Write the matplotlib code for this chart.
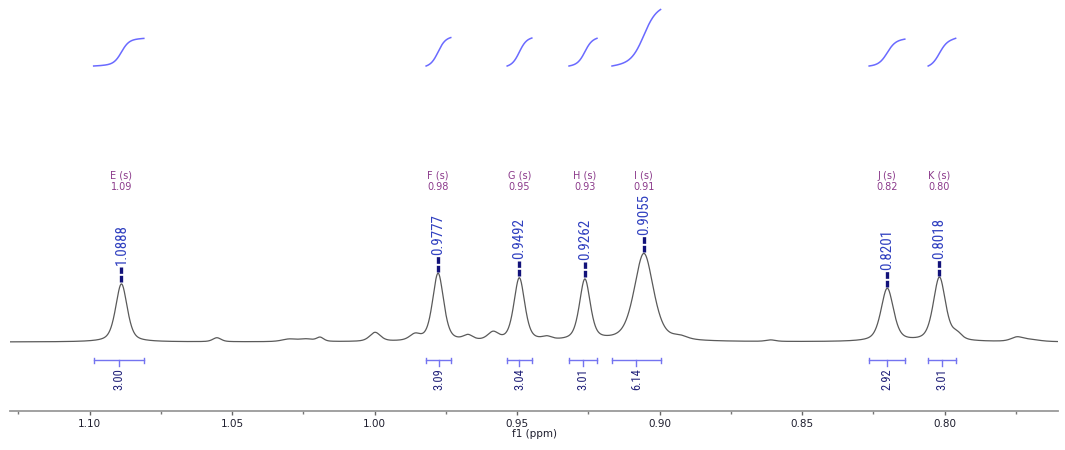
import numpy as np
import matplotlib
matplotlib.use('Agg')
import matplotlib.pyplot as plt
from matplotlib import font_manager
from matplotlib.ticker import MultipleLocator, FormatStrFormatter

# ---------------- data ----------------
# main peak list (chemical shift in ppm), intensity (arb. units), line width (ppm)
peak_labels = ['1.0888', '0.9777', '0.9492', '0.9262', '0.9055', '0.8201', '0.8018']
peak_shifts = [1.0888, 0.9777, 0.9492, 0.9262, 0.9055, 0.8201, 0.8018]
peak_heights = [58, 68, 63, 61, 88, 53, 64]
peak_widths = [0.0048, 0.0046, 0.0045, 0.0045, 0.0080, 0.0052, 0.0051]

# small lines / shoulders
minor_shifts = [1.0553, 1.0300, 1.0240, 1.0191, 0.9998, 0.9858, 0.9672, 0.9584, 0.9395, 0.8928, 0.8610, 0.7957, 0.7746, 0.7700]
minor_heights = [4, 2.5, 2.5, 4, 9, 6, 5, 8, 3, 3, 1.5, 6, 4, 2]
minor_widths = [0.0035, 0.0060, 0.0060, 0.0030, 0.0045, 0.0045, 0.0040, 0.0045, 0.0040, 0.0060, 0.0040, 0.0040, 0.0050, 0.0080]

# multiplet annotations
multiplet_names = ['E (s)', 'F (s)', 'G (s)', 'H (s)', 'I (s)', 'J (s)', 'K (s)']
multiplet_shifts = ['1.09', '0.98', '0.95', '0.93', '0.91', '0.82', '0.80']

# integrals
integral_values = [3.00, 3.09, 3.04, 3.01, 6.14, 2.92, 3.01]
integral_starts = [1.0986, 0.9819, 0.9535, 0.9318, 0.9167, 0.8265, 0.8058]
integral_ends = [1.0809, 0.9732, 0.9448, 0.9219, 0.8996, 0.8139, 0.7961]

baseline_level = 69.0
x_left, x_right = 1.1279, 0.7602

# ---------------- build spectrum from the peak list ----------------
ppm = np.linspace(x_left, x_right, 6000)


def line_shape(x, x0, h, w, eta=0.5):
    d = (x - x0) / (w / 2.0)
    return h * (eta / (1.0 + d ** 2) + (1 - eta) * np.exp(-np.log(2) * d ** 2))


spec = np.full_like(ppm, baseline_level)
for s, h, w in zip(peak_shifts, peak_heights, peak_widths):
    spec += line_shape(ppm, s, h, w)
for s, h, w in zip(minor_shifts, minor_heights, minor_widths):
    spec += line_shape(ppm, s, h, w)

# narrow font for the vertical labels, if one is installed
narrow_kw = None
candidates = [('Liberation Sans Narrow', 'normal'), ('Roboto Condensed', 'normal'),
              ('Open Sans Condensed', 'normal'), ('Noto Sans', 'condensed'),
              ('Open Sans', 'condensed'), ('Roboto', 'condensed'),
              ('DejaVu Sans', 'condensed')]
for fam, st in candidates:
    try:
        fp = font_manager.FontProperties(family=fam, stretch=st)
        path = font_manager.findfont(fp, fallback_to_default=False)
        if ('Narrow' in path) or ('Condensed' in path) or ('condensed' in path):
            narrow_kw = dict(family=fam, stretch=st)
            break
    except Exception:
        pass
if narrow_kw is not None:
    peak_fs, integ_fs = 10.8, 9.0
else:
    narrow_kw = dict(family='DejaVu Sans')
    peak_fs, integ_fs = 7.5, 6.8

# ---------------- figure ----------------
W, H = 1065, 450
fig = plt.figure(figsize=(W / 100, H / 100), dpi=100)
ax = fig.add_axes([10 / W, 39 / H, 1048 / W, 411 / H])
ax.set_xlim(x_left, x_right)
ax.set_ylim(0, 411)

ax.plot(ppm, spec, color='#5a5a5a', lw=0.9, zorder=3)

# peak picking labels
for s, lab in zip(peak_shifts, peak_labels):
    top = np.interp(s, ppm[::-1], spec[::-1])
    ax.plot([s, s], [top + 1.5, top + 17], color='#12127a', lw=2.4,
            dashes=(2.0, 0.6), solid_capstyle='butt', zorder=4)
    ax.text(s, top + 18.5, lab, rotation=90, ha='center', va='bottom',
            fontsize=peak_fs, color='#3040c0', zorder=5, **narrow_kw)

# multiplet labels
for s, nm, sh in zip(peak_shifts, multiplet_names, multiplet_shifts):
    ax.text(s, 235, nm, ha='center', va='center', fontsize=7, color='#8b3a8b')
    ax.text(s, 224, sh, ha='center', va='center', fontsize=7, color='#8b3a8b')

# integration brackets and curves
px_per_unit = 9.2
curve_base = 345
for a, b, v in zip(integral_starts, integral_ends, integral_values):
    c = 0.5 * (a + b)
    ax.plot([a, b], [51, 51], color='#7474f0', lw=1.0, zorder=3)
    for e in (a, b):
        ax.plot([e, e], [48.5, 53.5], color='#7474f0', lw=1.0, zorder=3)
    ax.plot([c, c], [51, 45], color='#7474f0', lw=1.0, zorder=3)
    ax.text(c, 43, f'{v:.2f}', rotation=90, ha='center', va='top',
            fontsize=integ_fs, color='#22227a', **narrow_kw)
    # integral curve
    m = (ppm <= a) & (ppm >= b)
    xs = ppm[m]
    ys = spec[m] - baseline_level
    cum = np.concatenate([[0], np.cumsum(0.5 * (ys[1:] + ys[:-1]) * np.abs(np.diff(xs)))])
    cum = cum / cum[-1]
    ax.plot(xs, curve_base + cum * v * px_per_unit, color='#6a6aff', lw=1.1, zorder=3)

# axes styling
for sp in ('top', 'left', 'right'):
    ax.spines[sp].set_visible(False)
ax.spines['bottom'].set_color('#9a9a9a')
ax.spines['bottom'].set_linewidth(1.3)
ax.set_yticks([])
ax.xaxis.set_major_locator(MultipleLocator(0.05))
ax.xaxis.set_minor_locator(MultipleLocator(0.025))
ax.xaxis.set_major_formatter(FormatStrFormatter('%.2f'))
ax.tick_params(axis='x', which='major', direction='out', length=3, width=1,
               color='#666666', labelsize=7.5, labelcolor='#1e1e2e', pad=3)
ax.tick_params(axis='x', which='minor', direction='out', length=2, width=1,
               color='#777777')
ax.set_xlabel('f1 (ppm)', fontsize=7.5, color='#1e1e2e', labelpad=0)
ax.patch.set_alpha(0)

fig.savefig('out.png', dpi=100)
